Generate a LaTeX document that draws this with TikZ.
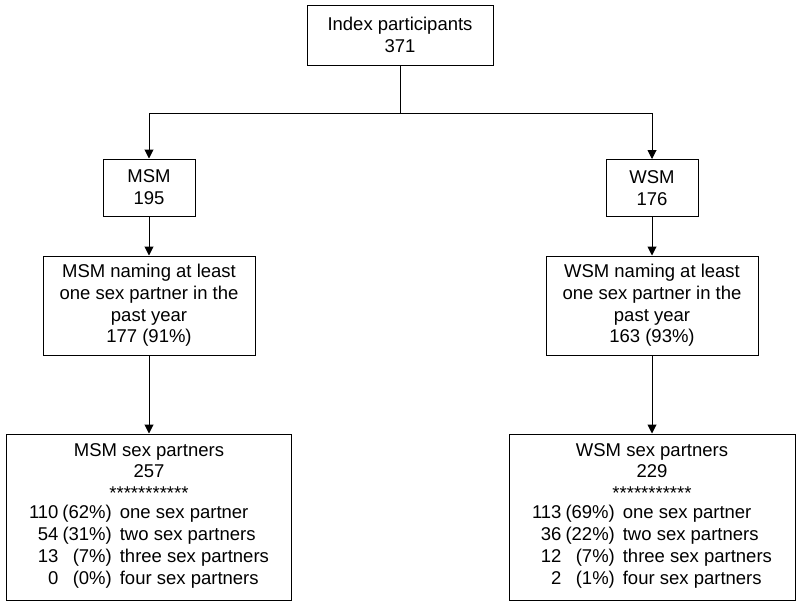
\documentclass[tikz,border=0pt]{standalone}
\usepackage{fontspec}
\setmainfont{Liberation Sans}
\usetikzlibrary{arrows.meta}
\begin{document}
\begin{tikzpicture}[x=1pt,y=-1pt,
  box/.style={draw,line width=1pt,align=center,inner sep=0pt,
    font=\fontsize{18.5}{21.8}\selectfont},
  link/.style={line width=1pt},
  arr/.style={line width=1pt,-{Triangle[width=9pt,length=9pt]}}]
\useasboundingbox (0,0) rectangle (800,605);
\node[box,minimum width=186pt,minimum height=60pt] (idx) at (400,35) {Index participants\\371};
\node[box,minimum width=92pt,minimum height=57pt] (msm) at (149,187.5) {MSM\\195};
\node[box,minimum width=92pt,minimum height=57pt] (wsm) at (652,188) {WSM\\176};
\node[box,minimum width=212pt,minimum height=99pt] (msmn) at (149,305.5) {MSM naming at least\\one sex partner in the\\past year\\177 (91\%)};
\node[box,minimum width=212pt,minimum height=99pt] (wsmn) at (652,305.5) {WSM naming at least\\one sex partner in the\\past year\\163 (93\%)};
\node[box,minimum width=285pt,minimum height=166pt] (msmp) at (149,517) {MSM sex partners\\257\\***********\\[3pt]
\begin{tabular}{@{}r@{\hspace{4pt}}r@{\hspace{8pt}}l@{}}
110 & (62\%) & one sex partner\\
54 & (31\%) & two sex partners\\
13 & (7\%) & three sex partners\\
0 & (0\%) & four sex partners
\end{tabular}};
\node[box,minimum width=286pt,minimum height=166pt] (wsmp) at (652,517) {WSM sex partners\\229\\***********\\[3pt]
\begin{tabular}{@{}r@{\hspace{4pt}}r@{\hspace{8pt}}l@{}}
113 & (69\%) & one sex partner\\
36 & (22\%) & two sex partners\\
12 & (7\%) & three sex partners\\
2 & (1\%) & four sex partners
\end{tabular}};
\coordinate (split) at (400,113);
\draw[link] (idx.south) -- (split);
\draw[arr] (split) -| (msm.north);
\draw[arr] (split) -| (wsm.north);
\draw[arr] (msm.south) -- (msmn.north);
\draw[arr] (wsm.south) -- (wsmn.north);
\draw[arr] (msmn.south) -- (msmp.north);
\draw[arr] (wsmn.south) -- (wsmp.north);
\end{tikzpicture}
\end{document}
